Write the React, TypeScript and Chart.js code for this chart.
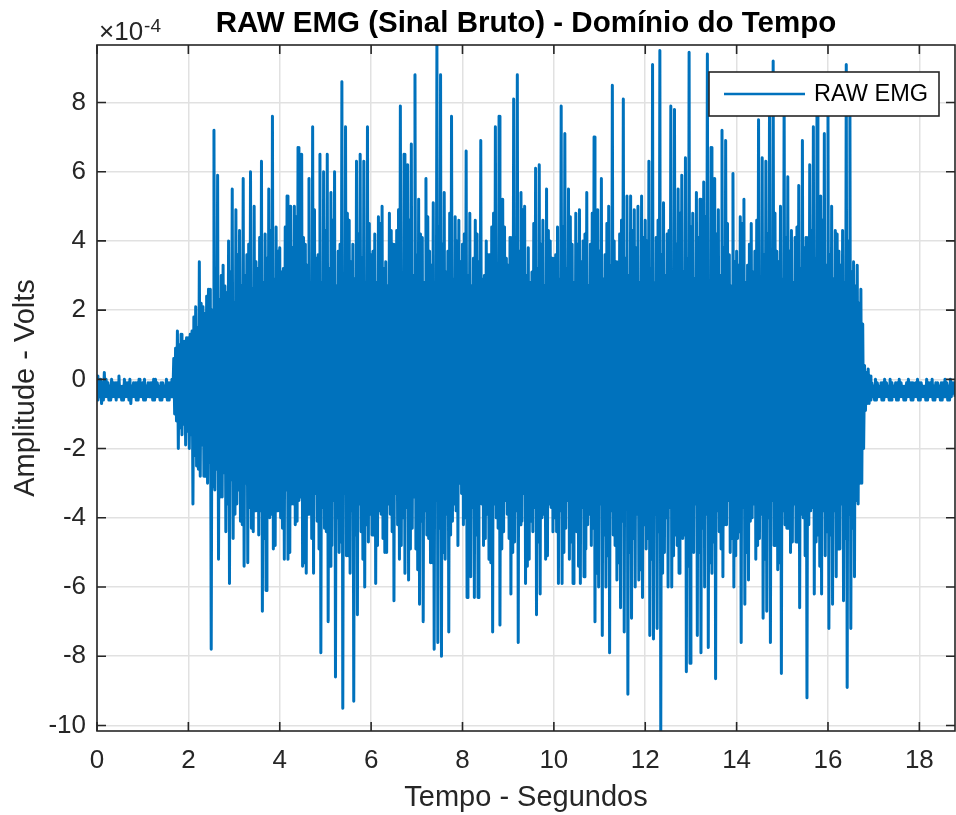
import React, { useEffect, useRef } from 'react';
import { Chart, registerables } from 'chart.js';

Chart.register(...registerables);

// ---- text ----
const TITLE = 'RAW EMG (Sinal Bruto) - Domínio do Tempo';
const X_LABEL = 'Tempo - Segundos';
const Y_LABEL = 'Amplitude - Volts';
const SERIES_NAME = 'RAW EMG';
const Y_EXPONENT_BASE = '×10';
const Y_EXPONENT = '-4';

// ---- sampling / ticks ----
const SAMPLE_PERIOD = 0.02; // seconds between plotted samples
const X_TICK_STEP = 2;
const Y_TICK_STEP = 2;

// ---- signal, in units of 1e-4 V ----
// "spike" samples: the visible peaks (alternating +/-), per 2-second block
const spikes00to02 = [
  0.1, -0.6, 0.0, -0.7, 0.2, -0.5, -0.1, -0.6, 0.0, -0.5,
  -0.1, -0.6, 0.1, -0.5, -0.2, -0.6, -0.1, -0.5, 0.0, -0.7,
  -0.1, -0.5, -0.1, -0.6, -0.2, -0.5, 0.0, -0.6, -0.1, -0.5,
  -0.1, -0.6, 0.0, -0.5, -0.2, -0.6, -0.1, -0.5, 0.0, -0.6,
  -0.1, -0.5, 0.6, -1.0, 1.4, -2.0, 1.3, -1.6, 1.1, -1.9,
];
const spikes02to04 = [
  1.2, -2.0, 1.4, -3.6, 2.1, -2.5, 3.4, -2.8, 2.1, -2.8,
  2.4, -3.0, 2.6, -7.8, 7.2, -3.2, 5.9, -5.2, 3.0, -3.4,
  2.7, -4.4, 4.0, -5.9, 5.5, -4.6, 4.9, -3.6, 4.3, -4.1,
  5.8, -5.4, 3.6, -5.3, 6.0, -4.3, 5.0, -3.8, 3.2, -4.5,
  6.3, -6.7, 4.2, -6.1, 5.5, -4.0, 7.6, -4.9, 4.4, -3.8,
];
const spikes04to06 = [
  3.8, -4.0, 3.2, -5.2, 5.3, -5.2, 5.0, -3.6, 5.0, -4.2,
  6.7, -3.5, 6.5, -5.4, 3.9, -5.6, 5.8, -3.7, 7.3, -5.6,
  3.5, -4.1, 6.5, -7.9, 6.0, -4.3, 6.5, -7.0, 5.4, -4.8,
  6.0, -8.6, 3.7, -5.0, 8.6, -9.5, 7.3, -5.1, 4.6, -5.6,
  3.9, -9.3, 6.3, -6.8, 6.5, -4.4, 6.3, -6.0, 7.3, -4.7,
];
const spikes06to08 = [
  3.6, -4.5, 4.2, -5.9, 4.7, -3.8, 5.0, -4.6, 3.4, -5.0,
  4.8, -3.9, 3.9, -6.4, 4.3, -4.2, 7.9, -4.8, 6.5, -5.6,
  6.2, -5.8, 6.8, -4.3, 8.8, -4.9, 5.2, -6.5, 4.1, -7.0,
  5.8, -4.5, 3.7, -5.3, 5.1, -7.8, 9.66, -7.6, 8.8, -8.0,
  5.4, -5.2, 3.7, -7.3, 7.6, -4.1, 4.7, -3.8, 4.6, -3.0,
];
const spikes08to10 = [
  3.9, -4.2, 6.6, -6.3, 4.8, -5.7, 3.5, -6.3, 4.2, -6.3,
  6.9, -3.6, 3.0, -4.6, 3.6, -5.2, 4.4, -7.3, 7.3, -4.0,
  7.6, -7.1, 5.2, -4.4, 3.5, -3.9, 4.1, -6.2, 8.1, -4.7,
  8.8, -7.6, 5.4, -4.1, 5.0, -5.9, 3.8, -5.2, 3.1, -4.4,
  6.1, -6.8, 6.2, -6.2, 4.6, -3.9, 5.5, -5.1, 4.0, -3.7,
];
const spikes10to12 = [
  3.2, -4.0, 4.4, -5.9, 7.9, -5.9, 7.1, -4.3, 5.5, -5.2,
  3.9, -5.9, 4.8, -4.4, 4.9, -5.9, 4.0, -5.7, 5.4, -4.2,
  3.9, -4.8, 7.0, -7.0, 4.9, -6.0, 5.8, -7.4, 3.6, -6.0,
  5.0, -7.9, 8.5, -4.5, 3.4, -5.8, 4.2, -6.6, 8.1, -7.3,
  5.3, -9.1, 5.3, -6.9, 4.9, -6.0, 5.0, -5.8, 5.3, -6.3,
];
const spikes12to14 = [
  4.6, -4.9, 6.3, -7.4, 9.1, -7.5, 4.1, -7.2, 9.5, -10.16,
  5.1, -5.0, 4.2, -6.0, 7.9, -6.0, 7.8, -4.5, 5.5, -5.6,
  5.9, -4.6, 6.4, -8.45, 9.45, -8.2, 4.8, -5.0, 5.4, -7.4,
  5.2, -7.9, 5.7, -6.0, 9.4, -7.75, 6.7, -5.6, 5.8, -8.65,
  4.9, -4.4, 7.2, -5.7, 6.9, -4.2, 3.6, -5.0, 5.95, -6.0,
];
const spikes14to16 = [
  3.7, -4.6, 4.7, -7.6, 5.2, -6.5, 3.3, -5.8, 4.5, -4.0,
  3.7, -5.2, 7.5, -4.6, 6.4, -6.9, 6.3, -6.7, 8.0, -7.6,
  9.2, -4.8, 3.7, -5.5, 5.0, -8.5, 8.2, -4.2, 5.85, -4.3,
  4.3, -4.7, 4.1, -4.7, 5.6, -6.6, 6.9, -4.0, 4.1, -9.2,
  6.2, -3.8, 7.3, -6.2, 8.3, -4.5, 5.3, -6.2, 7.1, -5.1,
];
const spikes16to18 = [
  8.0, -7.2, 5.0, -6.5, 4.3, -5.7, 3.7, -4.9, 4.3, -6.4,
  9.1, -8.9, 7.9, -7.2, 3.4, -5.7, 3.3, -3.6, 2.6, -3.0,
  0.4, -0.9, 0.3, -0.7, -0.1, -0.5, 0.0, -0.6, -0.2, -0.5,
  -0.1, -0.6, -0.1, -0.5, 0.0, -0.6, -0.2, -0.5, -0.1, -0.6,
  -0.1, -0.5, -0.2, -0.6, 0.0, -0.5, -0.1, -0.6, -0.1, -0.5,
];
const spikes18toEnd = [
  -0.1, -0.6, -0.2, -0.5, 0.0, -0.6, -0.1, -0.5, -0.2, -0.6,
  -0.1, -0.5, -0.1, -0.6, 0.0, -0.5, -0.2, -0.6, -0.1, -0.4,
];

// "core" samples: the dense oscillation between the spikes, per 2-second block
const core00to02 = [
  -0.2, -0.5, -0.1, -0.6, 0.0, -0.5, -0.2, -0.6, -0.1, -0.5,
  -0.1, -0.5, -0.2, -0.6, 0.0, -0.5, -0.1, -0.6, -0.2, -0.5,
  -0.1, -0.6, 0.0, -0.5, -0.1, -0.6, -0.2, -0.5, -0.1, -0.5,
  0.0, -0.6, -0.1, -0.5, -0.1, -0.6, -0.2, -0.5, -0.1, -0.6,
  0.0, -0.5, 0.9, -1.2, 1.0, -1.4, 0.9, -1.3, 1.2, -1.5,
];
const core02to04 = [
  1.3, -1.6, 1.8, -2.2, 1.5, -2.6, 2.2, -1.9, 1.9, -2.8,
  2.6, -2.4, 2.0, -3.1, 2.9, -2.6, 2.3, -3.4, 3.3, -2.7,
  2.5, -3.6, 3.1, -2.9, 2.2, -3.9, 3.6, -3.2, 2.7, -4.2,
  3.0, -3.0, 3.9, -3.7, 2.6, -4.4, 3.4, -3.3, 4.1, -3.8,
  2.8, -4.6, 3.5, -3.1, 4.3, -3.9, 2.9, -4.8, 3.7, -3.4,
];
const core04to06 = [
  3.1, -4.3, 4.4, -3.2, 2.7, -5.0, 3.8, -3.6, 4.7, -4.1,
  2.9, -3.4, 4.1, -5.3, 3.3, -3.9, 2.6, -4.6, 4.9, -3.3,
  3.6, -4.9, 2.8, -3.7, 4.3, -4.4, 3.2, -5.4, 4.6, -3.5,
  2.7, -4.0, 3.9, -4.7, 3.0, -3.3, 4.8, -5.1, 3.4, -3.8,
  2.9, -4.5, 4.2, -3.6, 3.5, -5.2, 2.8, -4.2, 4.5, -3.9,
];
const core06to08 = [
  3.7, -3.5, 2.8, -4.8, 4.5, -3.9, 3.2, -5.0, 2.7, -3.6,
  4.3, -4.4, 3.5, -3.3, 4.9, -5.2, 2.9, -4.0, 3.8, -3.7,
  4.6, -4.9, 3.0, -3.4, 3.6, -5.5, 4.2, -4.1, 2.8, -3.8,
  4.7, -4.6, 3.3, -5.3, 2.6, -3.5, 4.4, -4.3, 3.9, -5.0,
  3.1, -3.9, 4.8, -4.5, 2.9, -3.6, 4.0, -4.8, 3.4, -3.3,
];
const core08to10 = [
  4.2, -4.0, 3.0, -5.1, 2.7, -3.7, 4.6, -4.5, 3.4, -3.4,
  2.9, -4.8, 4.0, -3.9, 3.6, -5.3, 4.8, -3.6, 3.1, -4.3,
  2.8, -4.9, 4.4, -3.5, 3.3, -4.6, 2.6, -5.0, 4.1, -3.8,
  3.7, -4.2, 4.9, -3.3, 3.0, -5.4, 2.8, -4.1, 4.5, -3.7,
  3.2, -4.7, 3.9, -4.0, 2.7, -5.2, 4.3, -3.6, 3.5, -4.4,
];
const core10to12 = [
  3.6, -4.4, 2.9, -3.8, 4.4, -5.0, 3.2, -3.5, 4.7, -4.7,
  2.8, -4.0, 3.9, -5.4, 3.4, -3.7, 4.2, -4.9, 2.7, -3.9,
  4.8, -4.3, 3.1, -5.6, 3.7, -3.6, 2.9, -4.5, 4.5, -5.1,
  3.3, -3.8, 4.0, -4.8, 2.6, -5.3, 4.6, -4.1, 3.5, -3.7,
  3.0, -5.0, 4.3, -4.6, 3.8, -3.9, 2.8, -5.5, 4.1, -4.2,
];
const core12to14 = [
  4.0, -4.6, 3.2, -5.2, 2.8, -3.9, 4.6, -4.4, 3.6, -5.6,
  3.0, -4.0, 4.3, -3.7, 2.7, -5.1, 3.9, -4.8, 4.8, -3.8,
  3.1, -4.5, 3.5, -5.4, 4.4, -4.1, 2.9, -3.6, 4.1, -5.0,
  3.3, -4.3, 4.7, -3.9, 2.8, -5.3, 3.7, -4.7, 4.2, -3.8,
  3.0, -4.9, 3.8, -4.2, 4.5, -3.5, 2.7, -4.6, 3.4, -5.1,
];
const core14to16 = [
  3.3, -4.4, 4.5, -3.7, 2.8, -5.0, 3.9, -4.1, 3.1, -3.6,
  4.6, -4.8, 2.7, -3.9, 3.6, -5.2, 4.2, -4.0, 3.0, -3.5,
  4.8, -4.6, 3.4, -5.3, 2.9, -3.8, 4.1, -4.3, 3.7, -5.0,
  2.8, -3.6, 4.4, -4.5, 3.2, -3.9, 3.8, -5.1, 2.6, -4.2,
  4.3, -3.7, 3.5, -4.7, 3.0, -5.4, 4.6, -3.8, 3.3, -4.4,
];
const core16to18 = [
  3.6, -4.5, 2.9, -3.8, 4.2, -4.9, 3.3, -3.6, 2.8, -4.6,
  4.0, -3.9, 3.1, -4.3, 2.7, -3.5, 2.2, -3.0, 1.6, -2.0,
  0.2, -0.7, 0.1, -0.6, -0.2, -0.6, -0.1, -0.5, -0.1, -0.6,
  0.0, -0.5, -0.2, -0.6, -0.1, -0.5, -0.1, -0.6, 0.0, -0.5,
  -0.2, -0.6, -0.1, -0.5, -0.1, -0.6, -0.2, -0.5, 0.0, -0.6,
];
const core18toEnd = [
  -0.1, -0.5, -0.2, -0.6, -0.1, -0.5, 0.0, -0.6, -0.1, -0.5,
  -0.2, -0.6, -0.1, -0.5, -0.1, -0.6, 0.0, -0.5, -0.1, -0.5,
];

const FONT = '"Liberation Sans", Arial, Helvetica, sans-serif';
const LINE_COLOR = '#0072BD';
const AXIS_COLOR = '#262626';

const matlabAxesPlugin = {
  id: 'matlabAxes',
  afterDatasetsDraw(chart: any) {
    const { ctx, chartArea: a, scales } = chart;
    const xs = scales.x;
    const ys = scales.y;
    ctx.save();

    // axes box
    ctx.strokeStyle = AXIS_COLOR;
    ctx.lineWidth = 1.6;
    ctx.strokeRect(a.left, a.top, a.right - a.left, a.bottom - a.top);

    // inward tick marks on all four sides
    const tl = 9;
    ctx.beginPath();
    xs.ticks.forEach((t: any) => {
      const px = xs.getPixelForValue(t.value);
      ctx.moveTo(px, a.bottom);
      ctx.lineTo(px, a.bottom - tl);
      ctx.moveTo(px, a.top);
      ctx.lineTo(px, a.top + tl);
    });
    ys.ticks.forEach((t: any) => {
      const py = ys.getPixelForValue(t.value);
      ctx.moveTo(a.left, py);
      ctx.lineTo(a.left + tl, py);
      ctx.moveTo(a.right, py);
      ctx.lineTo(a.right - tl, py);
    });
    ctx.stroke();

    // legend (north-east, inside the axes)
    const lx = a.right - 246;
    const ly = a.top + 27;
    const lw = 230;
    const lh = 44;
    ctx.fillStyle = '#ffffff';
    ctx.fillRect(lx, ly, lw, lh);
    ctx.strokeStyle = AXIS_COLOR;
    ctx.lineWidth = 1.6;
    ctx.strokeRect(lx, ly, lw, lh);
    ctx.strokeStyle = LINE_COLOR;
    ctx.lineWidth = 2.5;
    ctx.beginPath();
    ctx.moveTo(lx + 15, ly + lh / 2);
    ctx.lineTo(lx + 96, ly + lh / 2);
    ctx.stroke();
    ctx.fillStyle = '#000000';
    ctx.font = `23.5px ${FONT}`;
    ctx.textAlign = 'left';
    ctx.textBaseline = 'middle';
    ctx.fillText(SERIES_NAME, lx + 105, ly + lh / 2 + 1);

    // title
    ctx.fillStyle = '#000000';
    ctx.font = `bold 29.5px ${FONT}`;
    ctx.textAlign = 'center';
    ctx.textBaseline = 'alphabetic';
    ctx.fillText(TITLE, (a.left + a.right) / 2, 31.5);

    // exponent label of the y axis
    ctx.fillStyle = AXIS_COLOR;
    ctx.textAlign = 'left';
    ctx.font = `26px ${FONT}`;
    ctx.fillText(Y_EXPONENT_BASE, a.left + 2, 39.5);
    const bw = ctx.measureText(Y_EXPONENT_BASE).width;
    ctx.font = `19px ${FONT}`;
    ctx.fillText(Y_EXPONENT, a.left + 2 + bw + 1, 31.5);

    ctx.restore();
  },
};

export default function App() {
  const canvasRef = useRef<HTMLCanvasElement | null>(null);

  useEffect(() => {
    const canvas = canvasRef.current;
    if (!canvas) return;

    const spikeBlocks = [
      spikes00to02, spikes02to04, spikes04to06, spikes06to08, spikes08to10,
      spikes10to12, spikes12to14, spikes14to16, spikes16to18, spikes18toEnd,
    ];
    const coreBlocks = [
      core00to02, core02to04, core04to06, core06to08, core08to10,
      core10to12, core12to14, core14to16, core16to18, core18toEnd,
    ];
    // each spike pair (+,-) is followed by a core pair (+,-)
    const signal: number[] = [];
    spikeBlocks.forEach((sb, b) => {
      const cb = coreBlocks[b];
      for (let k = 0; k < sb.length; k += 2) {
        signal.push(sb[k], sb[k + 1], cb[k], cb[k + 1]);
      }
    });
    const points = signal.map((v, i) => ({ x: i * SAMPLE_PERIOD, y: v }));
    const xMax = (signal.length - 1) * SAMPLE_PERIOD;
    const yMin = Math.min(...signal);
    const yMax = Math.max(...signal);

    const tickFont = { family: FONT, size: 26 };
    const labelFont = { family: FONT, size: 29 };

    const chart = new Chart(canvas, {
      type: 'line',
      data: {
        datasets: [
          {
            label: SERIES_NAME,
            data: points,
            borderColor: LINE_COLOR,
            borderWidth: 3,
            pointRadius: 0,
            tension: 0,
            fill: false,
            borderJoinStyle: 'round',
            clip: 0,
          } as any,
        ],
      },
      options: {
        animation: false,
        responsive: false,
        devicePixelRatio: 1,
        parsing: false,
        normalized: true,
        events: [],
        layout: { padding: { top: 45, right: 1, left: 0, bottom: 0 } },
        plugins: {
          legend: { display: false },
          title: { display: false },
          tooltip: { enabled: false },
        },
        scales: {
          x: {
            type: 'linear',
            min: 0,
            max: xMax,
            afterFit: (s: any) => {
              s.height = 84;
            },
            ticks: {
              stepSize: X_TICK_STEP,
              includeBounds: false,
              autoSkip: false,
              maxRotation: 0,
              font: tickFont,
              color: AXIS_COLOR,
              padding: 14,
              callback: (v: any) => String(v),
            },
            grid: { color: '#e1e1e1', lineWidth: 1.5, drawTicks: false },
            border: { display: false },
            title: {
              display: true,
              text: X_LABEL,
              font: labelFont,
              color: AXIS_COLOR,
              padding: { top: 0, bottom: 0 },
            },
          },
          y: {
            type: 'linear',
            min: yMin,
            max: yMax,
            afterFit: (s: any) => {
              s.width = 97;
            },
            ticks: {
              stepSize: Y_TICK_STEP,
              includeBounds: false,
              autoSkip: false,
              font: tickFont,
              color: AXIS_COLOR,
              padding: 11,
              callback: (v: any) => String(v),
            },
            grid: { color: '#e1e1e1', lineWidth: 1.5, drawTicks: false },
            border: { display: false },
            title: {
              display: true,
              text: Y_LABEL,
              font: labelFont,
              color: AXIS_COLOR,
              padding: { top: 9, bottom: 0 },
            },
          },
        },
      } as any,
      plugins: [matlabAxesPlugin],
    });

    return () => chart.destroy();
  }, []);

  return (
    <div style={{ position: 'absolute', left: 0, top: 0, width: 956, height: 815, background: '#ffffff' }}>
      <canvas ref={canvasRef} width={956} height={815} style={{ display: 'block' }} />
    </div>
  );
}
